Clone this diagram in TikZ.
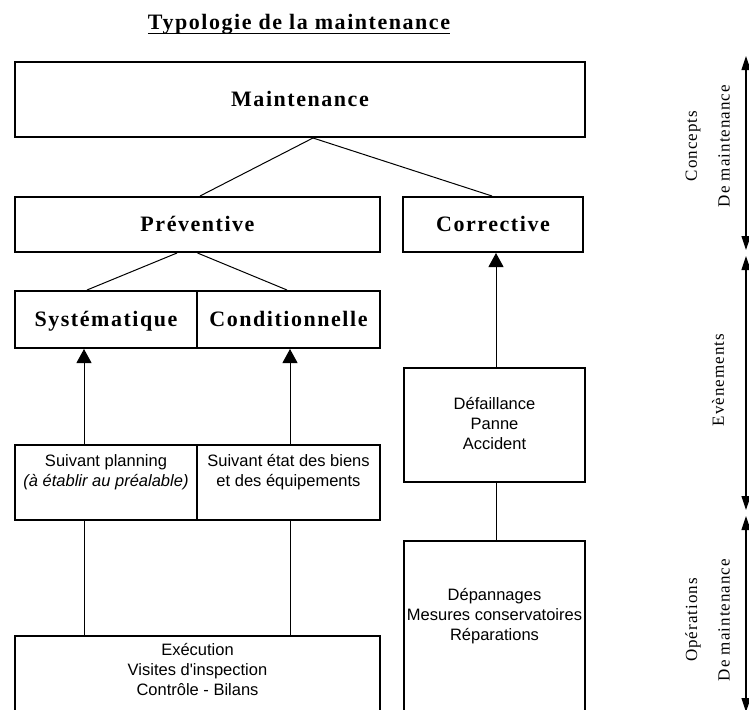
\documentclass[tikz,border=0pt]{standalone}
\usepackage{fontspec}
\setmainfont{Liberation Serif}
\newfontfamily\bserif[LetterSpace=7]{Liberation Serif}
\newfontfamily\rserif[LetterSpace=6]{Liberation Serif}
\newfontfamily\ssans{Liberation Sans}
\usetikzlibrary{arrows.meta,calc}
\newcommand\mylines[1]{\begin{tabular}[t]{@{}c@{}}#1\end{tabular}}
\begin{document}
\begin{tikzpicture}[x=1pt,y=-1pt,
  box/.style={draw,line width=2pt,inner sep=0pt},
  btext/.style={font={\bserif\bfseries\fontsize{22}{26}\selectfont},text height=14.6pt,text depth=0pt},
  stext/.style={font={\ssans\fontsize{16.5}{20}\selectfont},inner sep=0pt},
  rlabel/.style={font={\rserif\fontsize{17}{20}\selectfont},rotate=90,inner sep=0pt},
  link/.style={line width=1pt},
  uparrow/.style={line width=1pt,-{Triangle[width=15pt,length=14pt]}},
  rarrow/.style={line width=1.2pt,{Triangle[width=9pt,length=14pt]}-{Triangle[width=9pt,length=14pt]}}
]
\useasboundingbox (0,0) rectangle (749,709);
\fill[white] (0,0) rectangle (749,709);
\clip (0,0) rectangle (749,709);

% title
\node[btext,anchor=base,inner sep=0pt,text height=,text depth=] (title) at (299,30) {Typologie de la maintenance};
\draw[line width=1.8pt] ([yshift=-3.5pt]title.base west) -- ([yshift=-3.5pt]title.base east);

% boxes
\node[box,btext,minimum width=570pt,minimum height=75pt] (maint) at (300,99.5) {Maintenance};
\node[box,btext,minimum width=365pt,minimum height=55pt] (prev) at (197.5,224.5) {Préventive};
\node[box,btext,minimum width=180pt,minimum height=55pt] (corr) at (493,224.5) {Corrective};
\node[box,btext,minimum width=182pt,minimum height=57pt] (syst) at (106,319.5) {Systématique};
\node[box,btext,minimum width=183pt,minimum height=57pt] (cond) at (288.5,319.5) {Conditionnelle};
\node[box,minimum width=182pt,minimum height=75pt] (plan) at (106,482.5) {};
\node[box,minimum width=183pt,minimum height=75pt] (etat) at (288.5,482.5) {};
\node[box,minimum width=365pt,minimum height=110pt] (exec) at (197.5,691) {};
\node[box,minimum width=181pt,minimum height=114pt] (def) at (494.5,425) {};
\node[box,minimum width=181pt,minimum height=220pt] (dep) at (494.5,651) {};

% texts
\node[stext,anchor=base] (planT) at (106,466) {\mylines{Suivant planning\\\textit{(à établir au préalable)}}};
\node[stext,anchor=base] (etatT) at (288.5,466) {\mylines{Suivant état des biens\\et des équipements}};
\node[stext,anchor=base] (execT) at (197.5,655) {\mylines{Exécution\\Visites d\textquotesingle inspection\\Contrôle - Bilans}};
\node[stext,anchor=base] (defT) at (494.5,409) {\mylines{Défaillance\\Panne\\Accident}};
\node[stext,anchor=base] (depT) at (494.5,600) {\mylines{Dépannages\\Mesures conservatoires\\Réparations}};

% connectors
\coordinate (xa) at (84,0);
\coordinate (xb) at (290,0);
\coordinate (xc) at (496,0);
\draw[link] ([xshift=13pt]maint.south) -- ([xshift=2.5pt]prev.north);
\draw[link] ([xshift=13pt]maint.south) -- ([xshift=-1pt]corr.north);
\draw[link] ([xshift=-20.5pt]prev.south) -- ([xshift=-19pt]syst.north);
\draw[link] (prev.south) -- ([xshift=-1.5pt]cond.north);
\draw[uparrow] (plan.north -| xa) -- (syst.south -| xa);
\draw[uparrow] (etat.north -| xb) -- (cond.south -| xb);
\draw[link] (plan.south -| xa) -- (exec.north -| xa);
\draw[link] (etat.south -| xb) -- (exec.north -| xb);
\draw[uparrow] (def.north -| xc) -- (corr.south -| xc);
\draw[link] (def.south -| xc) -- (dep.north -| xc);

% right scale
\coordinate (r1a) at (746,56);
\coordinate (r1b) at (746,250);
\coordinate (r2a) at (746,256);
\coordinate (r2b) at (746,510);
\coordinate (r3a) at (746,516);
\coordinate (r3b) at (746,712);
\draw[rarrow] (r1b) -- (r1a);
\draw[rarrow] (r2b) -- (r2a);
\draw[rarrow] (r3b) -- (r3a);
\node[rlabel] (concepts) at (693,146) {Concepts};
\node[rlabel] (demaintA) at (724,146) {De maintenance};
\node[rlabel] (evt) at (718,380) {Evènements};
\node[rlabel] (ops) at (693,620) {Opérations};
\node[rlabel] (demaintB) at (724,620) {De maintenance};
\end{tikzpicture}
\end{document}
